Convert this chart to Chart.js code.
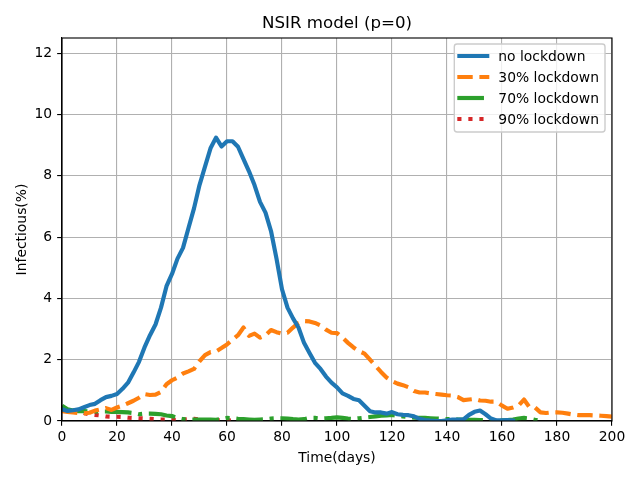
<!DOCTYPE html>
<html>
<head>
<meta charset="utf-8">
<script src="https://cdn.jsdelivr.net/npm/chart.js@4.4.0/dist/chart.umd.min.js"></script>
<style>
  html, body { margin: 0; padding: 0; background: #fff; }
  #wrap { width: 640px; height: 480px; }
</style>
</head>
<body>
<div id="wrap"><canvas id="chart" width="640" height="480"></canvas></div>
<script>
// --- Data ---
const days = [
  0, 2, 4, 6, 8, 10, 12, 14, 16, 18,
  20, 22, 24, 26, 28, 30, 32, 34, 36, 38,
  40, 42, 44, 46, 48, 50, 52, 54, 56, 58,
  60, 62, 64, 66, 68, 70, 72, 74, 76, 78,
  80, 82, 84, 86, 88, 90, 92, 94, 96, 98,
  100, 102, 104, 106, 108, 110, 112, 114, 116, 118,
  120, 122, 124, 126, 128, 130, 132, 134, 136, 138,
  140, 142, 144, 146, 148, 150, 152, 154, 156, 158,
  160, 162, 164, 166, 168, 170, 172, 174, 176, 178,
  180, 182, 184, 186, 188, 190, 192, 194, 196, 198,
  200
];

const noLockdown = [
  0.38, 0.33, 0.35, 0.38, 0.45, 0.52, 0.56, 0.68, 0.78, 0.82,
  0.88, 1.05, 1.25, 1.58, 1.93, 2.4, 2.8, 3.15, 3.7, 4.4,
  4.8, 5.3, 5.65, 6.3, 6.94, 7.7, 8.3, 8.9, 9.25, 8.96,
  9.13, 9.13, 8.95, 8.55, 8.15, 7.7, 7.15, 6.8, 6.2, 5.3,
  4.3, 3.7, 3.35, 3.05, 2.55, 2.22, 1.9, 1.7, 1.45, 1.25,
  1.1, 0.9, 0.82, 0.72, 0.68, 0.5, 0.32, 0.28, 0.28, 0.24,
  0.29, 0.22, 0.2, 0.19, 0.15, 0.07, 0.03, 0.01, 0, 0,
  0.02, 0.05, 0.05, 0.05, 0.2, 0.3, 0.34, 0.22, 0.08, 0.02,
  0.02, 0.03, 0.01
];

const lockdown30 = [
  0.32, 0.3, 0.28, 0.26, 0.25, 0.27, 0.34, 0.38, 0.42, 0.36,
  0.44, 0.5, 0.58, 0.66, 0.76, 0.88, 0.85, 0.86, 0.95, 1.2,
  1.33, 1.42, 1.55, 1.62, 1.7, 1.95, 2.15, 2.25, 2.27, 2.38,
  2.5, 2.65, 2.8, 3.05, 2.78, 2.85, 2.72, 2.8, 2.97, 2.9,
  2.85, 2.88, 3.05, 3.2, 3.26, 3.25, 3.2, 3.12, 2.98, 2.88,
  2.87, 2.72, 2.55, 2.4, 2.28, 2.2, 2.0, 1.8, 1.6, 1.42,
  1.3, 1.22, 1.17, 1.1, 0.98, 0.93, 0.93, 0.9, 0.88, 0.86,
  0.84, 0.83, 0.78, 0.68, 0.7, 0.72, 0.67, 0.66, 0.63, 0.63,
  0.5, 0.4, 0.44, 0.5, 0.7, 0.45, 0.44, 0.28, 0.26, 0.28,
  0.28, 0.27, 0.24, 0.21, 0.19, 0.19, 0.19, 0.18, 0.17, 0.16,
  0.14
];

const lockdown70 = [
  0.5, 0.38, 0.34, 0.32, 0.32, 0.31, 0.31, 0.31, 0.31, 0.3,
  0.3, 0.29, 0.28, 0.26, 0.22, 0.24, 0.24, 0.23, 0.22, 0.18,
  0.16, 0.1, 0.06, 0.05, 0.05, 0.05, 0.05, 0.05, 0.04, 0.06,
  0.1, 0.09, 0.07, 0.06, 0.05, 0.04, 0.05, 0.06, 0.08, 0.09,
  0.09, 0.08, 0.06, 0.05, 0.06, 0.1, 0.1, 0.08, 0.09, 0.1,
  0.12, 0.1, 0.08, 0.07, 0.09, 0.11, 0.13, 0.15, 0.17, 0.18,
  0.2, 0.17, 0.15, 0.13, 0.11, 0.1, 0.1, 0.09, 0.08, 0.07,
  0.06, 0.06, 0.05, 0.05, 0.04, 0.04, 0.03, 0.03, 0.03, 0.03,
  0.02, 0.03, 0.05, 0.08, 0.1, 0.08, 0.04, 0.02
];

const lockdown90 = [
  0.38, 0.38, 0.35, 0.3, 0.26, 0.22, 0.2, 0.18, 0.15, 0.14,
  0.14, 0.13, 0.11, 0.1, 0.09, 0.08, 0.07, 0.06, 0.05, 0.05,
  0.04, 0.04, 0.05, 0.06, 0.07, 0.05, 0.03, 0.02, 0.02, 0.04,
  0.03, 0.01
];

const xTicks = [0, 20, 40, 60, 80, 100, 120, 140, 160, 180, 200];
const yTicks = [0, 2, 4, 6, 8, 10, 12];

const seriesLabels = ['no lockdown', '30% lockdown', '70% lockdown', '90% lockdown'];
const seriesValues = [noLockdown, lockdown30, lockdown70, lockdown90];

// --- Styles (matplotlib look) ---
const PT = 100 / 72;          // points -> px at 100 dpi
const LW = 3 * PT;            // line width 3pt
const FONT = "'DejaVu Sans', sans-serif";
const seriesColors = ['#1f77b4', '#ff7f0e', '#2ca02c', '#d62728'];
const seriesDashes = [
  [],
  [3.7 * LW, 1.6 * LW],
  [6.4 * LW, 1.6 * LW, 1 * LW, 1.6 * LW],
  [1 * LW, 1.65 * LW]
];

Chart.defaults.font.family = FONT;
Chart.defaults.color = '#000';

function toPoints(values) {
  return values.map((v, i) => ({ x: days[i], y: v }));
}

const datasets = seriesValues.map((vals, i) => ({
  label: seriesLabels[i],
  data: toPoints(vals),
  borderColor: seriesColors[i],
  backgroundColor: seriesColors[i],
  borderWidth: LW,
  borderDash: seriesDashes[i],
  borderCapStyle: i === 0 ? 'square' : 'butt',
  borderJoinStyle: 'round',
  pointRadius: 0,
  tension: 0,
  fill: false,
  clip: 0
}));

// title + top/right spines + legend box, drawn like matplotlib
const mplDecor = {
  id: 'mplDecor',
  afterDatasetsDraw(chart) {
    const { ctx, chartArea: a } = chart;
    ctx.save();
    ctx.strokeStyle = '#000';
    ctx.lineWidth = 0.8 * PT;
    ctx.strokeRect(a.left, a.top, a.right - a.left, a.bottom - a.top);
    ctx.restore();
  },
  afterDraw(chart) {
    const { ctx, chartArea: a } = chart;
    ctx.save();

    // title
    ctx.fillStyle = '#000';
    ctx.font = `${12 * PT}px ${FONT}`;
    ctx.textAlign = 'center';
    ctx.textBaseline = 'alphabetic';
    ctx.fillText('NSIR model (p=0)', (a.left + a.right) / 2, a.top - 6 * PT - 2);

    // legend
    const fs = 10 * PT;
    ctx.font = `${fs}px ${FONT}`;
    const textW = Math.max(...seriesLabels.map(l => ctx.measureText(l).width));
    const rowH = 21;
    const boxW = 44 + textW + 6;
    const boxH = 88;
    const bx = a.right - 7 - boxW, by = a.top + 6;

    ctx.beginPath();
    ctx.roundRect(bx, by, boxW, boxH, 0.2 * fs);
    ctx.fillStyle = 'rgba(255,255,255,0.8)';
    ctx.fill();
    ctx.strokeStyle = '#cccccc';
    ctx.lineWidth = 1 * PT;
    ctx.stroke();

    ctx.textAlign = 'left';
    ctx.textBaseline = 'middle';
    seriesLabels.forEach((label, i) => {
      const cy = by + 12 + i * rowH;
      const hx = bx + 3;
      ctx.beginPath();
      ctx.setLineDash(seriesDashes[i]);
      ctx.lineCap = 'butt';
      ctx.strokeStyle = seriesColors[i];
      ctx.lineWidth = LW;
      ctx.moveTo(hx, cy);
      ctx.lineTo(hx + 32, cy);
      ctx.stroke();
      ctx.setLineDash([]);
      ctx.fillStyle = '#000';
      ctx.fillText(label, bx + 44, cy + 1);
    });
    ctx.restore();
  }
};

new Chart(document.getElementById('chart'), {
  type: 'line',
  data: { datasets },
  options: {
    responsive: false,
    animation: false,
    layout: { padding: { left: 0, right: 28, top: 38, bottom: 0 } },
    plugins: { legend: { display: false }, tooltip: { enabled: false }, title: { display: false } },
    scales: {
      x: {
        type: 'linear',
        min: 0,
        max: 200,
        afterBuildTicks: s => { s.ticks = xTicks.map(v => ({ value: v })); },
        afterFit: s => { s.height = 59; },
        ticks: { font: { size: 10 * PT }, padding: 3, maxRotation: 0 },
        grid: { color: '#b0b0b0', lineWidth: 0.8 * PT, tickColor: '#000', tickLength: 3.5 * PT, tickWidth: 0.8 * PT },
        border: { color: '#000', width: 0.8 * PT },
        title: { display: true, text: 'Time(days)', font: { size: 10 * PT }, padding: { top: 0, bottom: 13 } }
      },
      y: {
        min: 0,
        max: 12.5,
        afterBuildTicks: s => { s.ticks = yTicks.map(v => ({ value: v })); },
        afterFit: s => { s.width = 62; },
        ticks: { font: { size: 10 * PT }, padding: 5 },
        grid: { color: '#b0b0b0', lineWidth: 0.8 * PT, tickColor: '#000', tickLength: 3.5 * PT, tickWidth: 0.8 * PT },
        border: { color: '#000', width: 0.8 * PT },
        title: { display: true, text: 'Infectious(%)', font: { size: 10 * PT }, padding: { top: 14, bottom: 0 } }
      }
    }
  },
  plugins: [mplDecor]
});
</script>
</body>
</html>
